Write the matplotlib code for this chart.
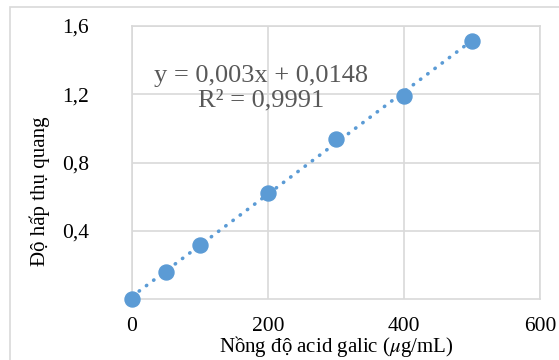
import numpy as np
import matplotlib.pyplot as plt
from matplotlib.patches import Rectangle

# calibration data
conc = [0, 50, 100, 200, 300, 400, 500]
absorb = [0.0, 0.158, 0.318, 0.62, 0.94, 1.19, 1.51]
slope = 0.003
intercept = 0.0148
eq_text = "y = 0,003x + 0,0148\nR² = 0,9991"
xticks = [0, 200, 400, 600]
yticks = [0.4, 0.8, 1.2, 1.6]
ytick_labels = ["0,4", "0,8", "1,2", "1,6"]

plt.rcParams['font.family'] = ['Liberation Serif', 'DejaVu Serif']
plt.rcParams['mathtext.fontset'] = 'stix'

blue = '#5B9BD5'
grid = '#D9D9D9'

fig = plt.figure(figsize=(5.59, 3.6), dpi=100)
ax = fig.add_axes([0.2361, 0.1694, 0.7299, 0.7583])

# trendline
xx = np.array([conc[0], conc[-1]])
ax.plot(xx, slope*xx + intercept, color=blue, lw=2.6,
        linestyle=(0, (0.1, 2.4)), dash_capstyle='round', zorder=2)
ax.plot(conc, absorb, 'o', color=blue, markersize=10.8, zorder=3, clip_on=False)

ax.set_xlim(0, 600)
ax.set_ylim(0, 1.6)
ax.set_xticks(xticks)
ax.set_yticks(yticks)
ax.set_yticklabels(ytick_labels)
ax.tick_params(length=0, labelsize=15.5, colors='black')
ax.tick_params(axis='y', pad=31)
ax.tick_params(axis='x', pad=13)
ax.grid(True, color=grid, lw=1.2)
ax.set_axisbelow(True)
for s in ax.spines.values():
    s.set_color(grid)
    s.set_linewidth(1.2)

ax.text(190, 1.235, eq_text, ha='center', va='center', fontsize=19,
        color='#595959', linespacing=1.12)

ax.set_xlabel("Nồng độ acid galic ($\\mu$g/mL)", fontsize=15, va='center')
ax.xaxis.set_label_coords(0.5, -0.175)
ax.set_ylabel("Độ hấp thụ quang", fontsize=15, va='center')
ax.yaxis.set_label_coords(-0.225, 0.396)

# outer chart border
fig.patches.append(Rectangle((0.0179, -0.1), 1.2, 1.0806, transform=fig.transFigure,
                             fill=False, edgecolor=grid, lw=1.2))

fig.savefig('out.png', dpi=100)
